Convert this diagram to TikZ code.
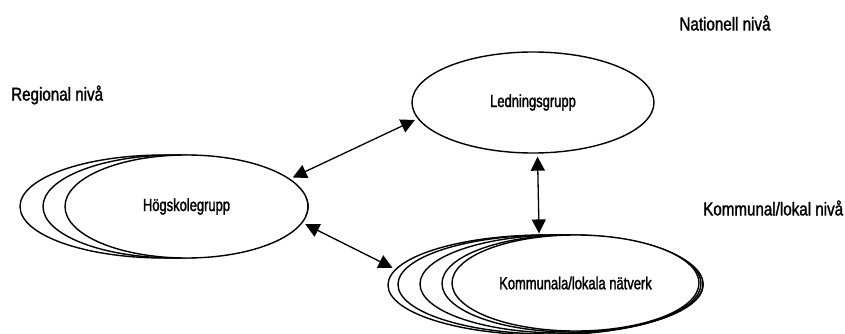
\documentclass[tikz,border=0pt]{standalone}
\usepackage{fontspec}
\newfontfamily\labfont[FakeStretch=0.82,FakeBold=1.6]{Liberation Sans}
\newfontfamily\nodefont[FakeStretch=0.74,FakeBold=1.6]{Liberation Sans}
\usetikzlibrary{shapes.geometric,arrows.meta}
\begin{document}
\begin{tikzpicture}[x=1pt,y=-1pt,
  grp/.style={ellipse,draw,fill=white,line width=1.4pt,inner sep=0pt,
    font=\nodefont\fontsize{17.5}{19}\selectfont},
  lvl/.style={font=\labfont\fontsize{18.5}{20}\selectfont,inner sep=0pt},
  arr/.style={{Triangle[length=14pt,width=14pt]}-{Triangle[length=14pt,width=14pt]},line width=1.3pt,shorten <=3pt,shorten >=3pt}]
\useasboundingbox (0,0) rectangle (845,334);
% Högskolegrupp stack
\node[grp,minimum width=288pt,minimum height=103pt] (hog3) at (164,206.5) {};
\node[grp,minimum width=265pt,minimum height=103pt] (hog2) at (175.5,206.5) {};
\node[grp,minimum width=243pt,minimum height=103pt] (hog) at (186.5,206.5) {Högskolegrupp};
% Ledningsgrupp
\node[grp,minimum width=242pt,minimum height=101pt] (led) at (533,102.5) {Ledningsgrupp};
% Kommunala stack
\node[grp,minimum width=315pt,minimum height=100pt] (kom5) at (545.5,285) {};
\node[grp,minimum width=305pt,minimum height=99pt] (kom4) at (550.5,284.5) {};
\node[grp,minimum width=283pt,minimum height=98pt] (kom3) at (561.5,284) {};
\node[grp,minimum width=259pt,minimum height=97pt] (kom2) at (571.5,283.5) {};
\node[grp,minimum width=247pt,minimum height=96pt] (kom) at (575.5,283) {Kommunala/lokala nätverk};
% level labels
\node[lvl] (nat) at (725,23) {Nationell nivå};
\node[lvl,anchor=west] (reg) at (11,95) {Regional nivå};
\node[lvl,anchor=west] (kl) at (703,208) {Kommunal/lokal nivå};
% connectors
\draw[arr] (hog.15) -- (led.188);
\draw[arr] (hog.-8) -- (kom5.174);
\draw[arr] (led.-85) -- (kom.128);
\end{tikzpicture}
\end{document}
